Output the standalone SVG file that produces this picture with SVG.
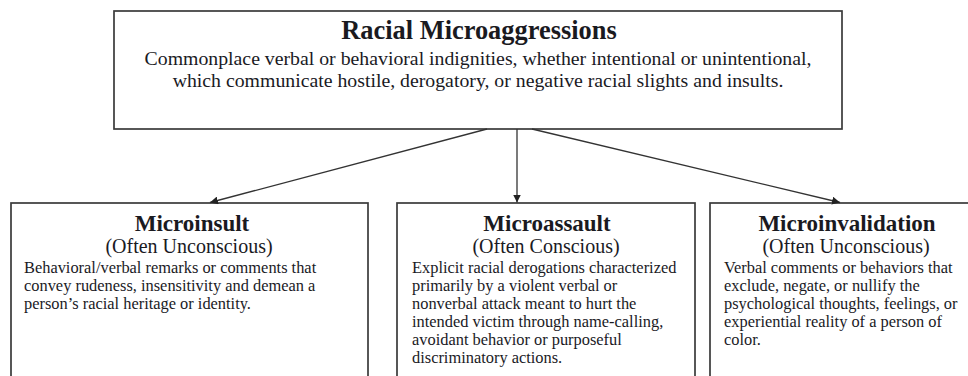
<svg xmlns="http://www.w3.org/2000/svg" width="968" height="376" viewBox="0 0 968 376">
  <style>
    text { font-family: "Liberation Serif", "Times New Roman", serif; fill: #1a1a1f; }
    .box { fill: #ffffff; stroke: #3a3a3a; stroke-width: 1.7; }
    .h1 { font-size: 26.4px; font-weight: bold; text-anchor: middle; }
    .lead { font-size: 19.8px; text-anchor: middle; }
    .h2 { font-size: 23px; font-weight: bold; text-anchor: middle; }
    .sub { font-size: 20px; text-anchor: middle; }
    .body { font-size: 16.4px; }
    .conn { stroke: #333333; stroke-width: 1.3; fill: none; marker-end: url(#arrow); }
  </style>
  <defs>
    <marker id="arrow" viewBox="0 0 10 10" refX="10" refY="5" markerWidth="8" markerHeight="8" markerUnits="userSpaceOnUse" orient="auto">
      <path d="M0,0 L10,5 L0,10 Z" fill="#222222"/>
    </marker>
  </defs>
  <rect width="968" height="376" fill="#ffffff"/>

  <g id="racial-microaggressions">
    <rect class="box" x="114" y="11" width="728" height="118"/>
    <text class="h1" x="479" y="39">Racial Microaggressions</text>
    <text class="lead" x="478" y="65">Commonplace verbal or behavioral indignities, whether intentional or unintentional,</text>
    <text class="lead" x="478" y="87">which communicate hostile, derogatory, or negative racial slights and insults.</text>
  </g>

  <g id="microinsult">
    <rect class="box" x="11" y="203" width="357" height="180"/>
    <text class="h2" x="192" y="231">Microinsult</text>
    <text class="sub" x="189" y="253">(Often Unconscious)</text>
    <text class="body" x="24" y="273">Behavioral/verbal remarks or comments that</text>
    <text class="body" x="24" y="291">convey rudeness, insensitivity and demean a</text>
    <text class="body" x="24" y="309">person’s racial heritage or identity.</text>
  </g>

  <g id="microassault">
    <rect class="box" x="397" y="203" width="298" height="180"/>
    <text class="h2" x="547" y="231">Microassault</text>
    <text class="sub" x="546" y="253">(Often Conscious)</text>
    <text class="body" x="412" y="273">Explicit racial derogations characterized</text>
    <text class="body" x="412" y="291">primarily by a violent verbal or</text>
    <text class="body" x="412" y="309">nonverbal attack meant to hurt the</text>
    <text class="body" x="412" y="327">intended victim through name-calling,</text>
    <text class="body" x="412" y="345">avoidant behavior or purposeful</text>
    <text class="body" x="412" y="363">discriminatory actions.</text>
  </g>

  <g id="microinvalidation">
    <rect class="box" x="710" y="203" width="280" height="180"/>
    <text class="h2" x="847" y="231">Microinvalidation</text>
    <text class="sub" x="846" y="253">(Often Unconscious)</text>
    <text class="body" x="724" y="273">Verbal comments or behaviors that</text>
    <text class="body" x="724" y="291">exclude, negate, or nullify the</text>
    <text class="body" x="724" y="309">psychological thoughts, feelings, or</text>
    <text class="body" x="724" y="327">experiential reality of a person of</text>
    <text class="body" x="724" y="345">color.</text>
  </g>

  <g id="connectors">
    <line class="conn" x1="487" y1="129" x2="210" y2="202.5"/>
    <line class="conn" x1="517" y1="129" x2="517" y2="202.5"/>
    <line class="conn" x1="532" y1="129" x2="840" y2="202.5"/>
  </g>
</svg>
